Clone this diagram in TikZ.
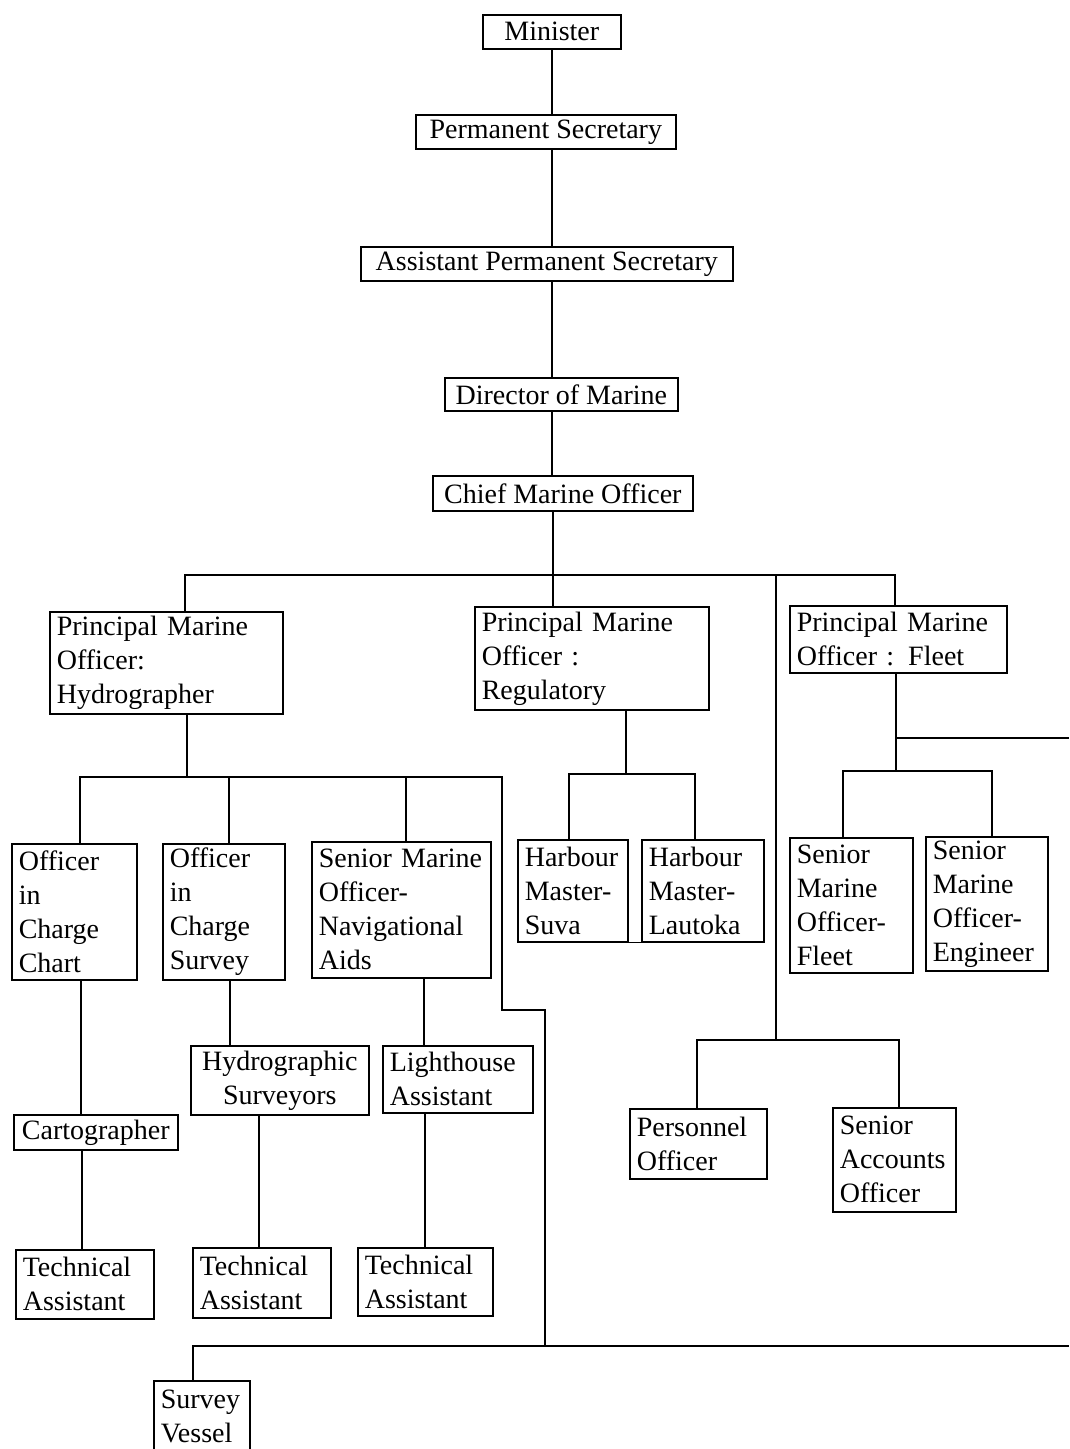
\documentclass[tikz,border=0pt]{standalone}
\usepackage{fontspec}
\setmainfont{Liberation Serif}
\begin{document}
\begin{tikzpicture}[x=1pt,y=-1pt,
  bx/.style={draw, line width=1.6pt, inner xsep=7pt, inner ysep=0pt, anchor=north west,
     font=\fontsize{28}{34}\selectfont, align=left},
  cbx/.style={bx, align=center},
  ln/.style={line width=1.6pt}]
\useasboundingbox (0,0) rectangle (1069,1449);
\clip (0,0) rectangle (1069,1449);
% top chain
\node[cbx, minimum width=138, minimum height=34] (min) at (482,14) {Minister};
\node[cbx, minimum width=260, minimum height=34] (ps) at (415,114) {Permanent Secretary};
\node[cbx, minimum width=372, minimum height=34] (aps) at (360,246) {Assistant Permanent Secretary};
\node[cbx, minimum width=233, minimum height=33] (dir) at (444,377) {Director of Marine};
\node[cbx, minimum width=260, minimum height=35] (cmo) at (432,475) {Chief Marine Officer};
% principal officers
\node[bx, minimum width=233, minimum height=102, text width=219] (hyd) at (49,611) {Principal Marine\\Officer:\\Hydrographer};
\node[bx, minimum width=234, minimum height=103, text width=220] (reg) at (474,606) {Principal Marine\\Officer :\\Regulatory};
\node[bx, minimum width=217, minimum height=67, text width=203] (flt) at (789,605) {Principal Marine\\Officer : Fleet};
% hydrographer branch
\node[bx, minimum width=125, minimum height=136, text width=111] (chart) at (11,843) {Officer\\in\\Charge\\Chart};
\node[bx, minimum width=122, minimum height=136, text width=108] (surv) at (162,843) {Officer\\in\\Charge\\Survey};
\node[bx, minimum width=179, minimum height=136, text width=165] (nav) at (311,841) {Senior Marine\\Officer-\\Navigational\\Aids};
\node[cbx, minimum width=164, minimum height=35] (carto) at (13,1114) {Cartographer};
\node[cbx, minimum width=178, minimum height=69] (hsurv) at (190,1045) {Hydrographic\\Surveyors};
\node[bx, minimum width=150, minimum height=67, text width=136] (light) at (382,1045) {Lighthouse\\Assistant};
\node[bx, minimum width=138, minimum height=69, text width=124] (tech1) at (15,1249) {Technical\\Assistant};
\node[bx, minimum width=138, minimum height=70, text width=124] (tech2) at (192,1247) {Technical\\Assistant};
\node[bx, minimum width=135, minimum height=68, text width=121] (tech3) at (357,1247) {Technical\\Assistant};
\node[bx, minimum width=96, minimum height=72, text width=82] (vessel) at (153,1380) {Survey\\Vessel};
% regulatory branch
\node[bx, minimum width=110, minimum height=102, text width=96] (suva) at (517,839) {Harbour\\Master-\\Suva};
\node[bx, minimum width=122, minimum height=102, text width=108] (laut) at (641,839) {Harbour\\Master-\\Lautoka};
% fleet branch
\node[bx, minimum width=123, minimum height=135, text width=109] (smof) at (789,837) {Senior\\Marine\\Officer-\\Fleet};
\node[bx, minimum width=122, minimum height=134, text width=108] (smoe) at (925,836) {Senior\\Marine\\Officer-\\Engineer};
% administration
\node[bx, minimum width=137, minimum height=70, text width=123] (pers) at (629,1108) {Personnel\\Officer};
\node[bx, minimum width=123, minimum height=104, text width=109] (acct) at (832,1107) {Senior\\Accounts\\Officer};

% spine
\coordinate (sp) at (552,0);
\draw[ln] (sp |- min.south) -- (sp |- ps.north);
\draw[ln] (sp |- ps.south) -- (sp |- aps.north);
\draw[ln] (sp |- aps.south) -- (sp |- dir.north);
\draw[ln] (sp |- dir.south) -- (sp |- cmo.north);
\coordinate (sp2) at (553,0);
\draw[ln] (sp2 |- cmo.south) -- (sp2 |- reg.north);
% main bus
\coordinate (b1L) at (185,575);
\coordinate (b1R) at (895,575);
\draw[ln] (b1L |- hyd.north) -- (b1L) -- (b1R) -- (b1R |- flt.north);
% administration line
\coordinate (adm) at (776,575);
\coordinate (admB) at (776,1040);
\coordinate (pA) at (697,1040);
\coordinate (pB) at (899,1040);
\draw[ln] (adm) -- (admB);
\draw[ln] (pA |- pers.north) -- (pA) -- (pB) -- (pB |- acct.north);
% hydrographer bus
\coordinate (h0) at (187,777);
\coordinate (hA) at (80,777);
\coordinate (hB) at (229,777);
\coordinate (hC) at (406,777);
\coordinate (hD) at (502,777);
\coordinate (hE) at (502,1010);
\coordinate (hF) at (545,1010);
\coordinate (hG) at (545,1346);
\draw[ln] (h0 |- hyd.south) -- (h0);
\draw[ln] (hA |- chart.north) -- (hA) -- (hD) -- (hE) -- (hF) -- (hG);
\draw[ln] (hB) -- (hB |- surv.north);
\draw[ln] (hC) -- (hC |- nav.north);
% bottom bus
\coordinate (vA) at (193,1346);
\coordinate (edgeB) at (1069,1346);
\draw[ln] (vA |- vessel.north) -- (vA) -- (edgeB);
% vertical chains
\coordinate (c1) at (81,0);
\coordinate (c2) at (82,0);
\draw[ln] (c1 |- chart.south) -- (c1 |- carto.north);
\draw[ln] (c2 |- carto.south) -- (c2 |- tech1.north);
\coordinate (s1) at (230,0);
\coordinate (s2) at (259,0);
\draw[ln] (s1 |- surv.south) -- (s1 |- hsurv.north);
\draw[ln] (s2 |- hsurv.south) -- (s2 |- tech2.north);
\coordinate (n1) at (424,0);
\coordinate (n2) at (425,0);
\draw[ln] (n1 |- nav.south) -- (n1 |- light.north);
\draw[ln] (n2 |- light.south) -- (n2 |- tech3.north);
% regulatory bus
\coordinate (r0) at (626,774);
\coordinate (rA) at (569,774);
\coordinate (rB) at (695,774);
\draw[ln] (r0 |- reg.south) -- (r0);
\draw[ln] (rA |- suva.north) -- (rA) -- (rB) -- (rB |- laut.north);
\draw[ln] (suva.south east) -- (laut.south west);
% fleet bus
\coordinate (f0) at (896,771);
\coordinate (fA) at (843,771);
\coordinate (fB) at (992,771);
\coordinate (fM) at (896,738);
\coordinate (edgeA) at (1069,738);
\draw[ln] (f0 |- flt.south) -- (f0);
\draw[ln] (fA |- smof.north) -- (fA) -- (fB) -- (fB |- smoe.north);
\draw[ln] (fM) -- (edgeA);
\end{tikzpicture}
\end{document}
